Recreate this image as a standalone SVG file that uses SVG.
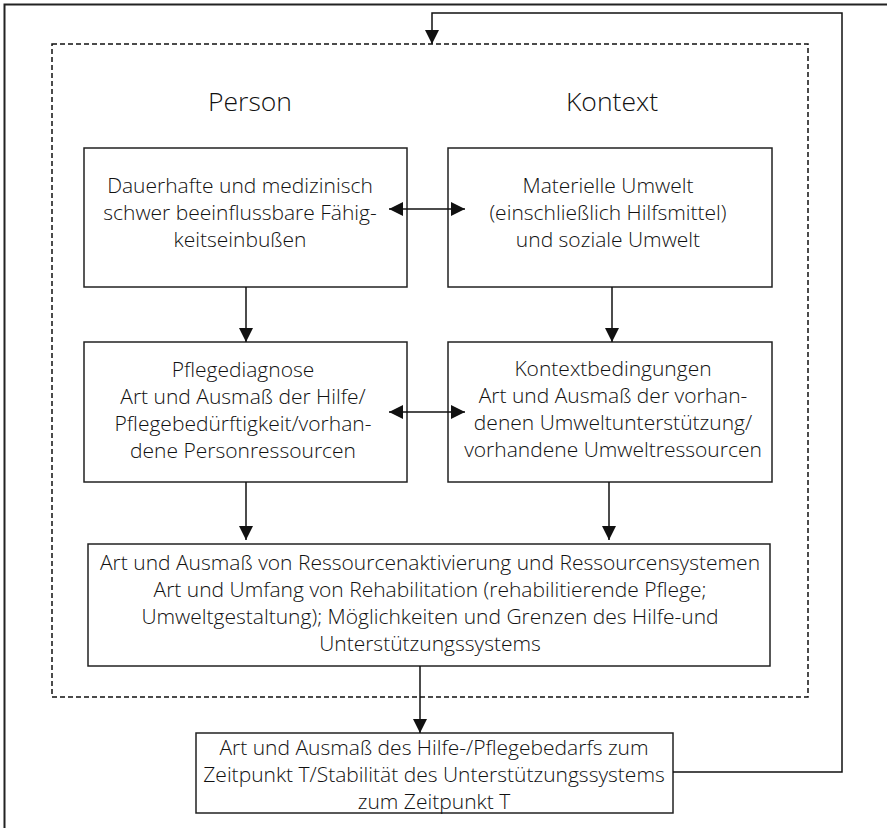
<svg xmlns="http://www.w3.org/2000/svg" width="887" height="828" viewBox="0 0 887 828">
<style>
.box{fill:#fff;stroke:#222;stroke-width:1.5}
.t{font-family:"Open Sans","Noto Sans","Liberation Sans",sans-serif;font-size:21px;font-weight:300;fill:#111;text-anchor:middle}
.h{font-size:26.5px}
.c{fill:none;stroke:#111;stroke-width:1.5}
</style>
<defs>
<marker id="ah" markerUnits="userSpaceOnUse" markerWidth="14" markerHeight="14" viewBox="0 0 14 14" refX="14" refY="7" orient="auto-start-reverse">
<path d="M0,0 L14,7 L0,14 Z" fill="#111"/>
</marker>
</defs>
<rect width="887" height="828" fill="#fff"/>
<g id="frame"><path d="M4.5,828 V4.5 H887" fill="none" stroke="#222" stroke-width="2"/></g>
<g id="context-boundary"><rect x="52" y="44" width="756" height="653" fill="none" stroke="#111" stroke-width="1.5" stroke-dasharray="5,3"/></g>
<g id="labels">
<text class="t h" x="250" y="111">Person</text>
<text class="t h" x="612" y="111">Kontext</text>
</g>
<g id="n1"><rect class="box" x="84" y="148" width="323" height="139"/>
<text class="t" x="240"><tspan x="240" y="193">Dauerhafte und medizinisch</tspan><tspan x="240" y="220">schwer beeinflussbare Fähig-</tspan><tspan x="240" y="247">keitseinbußen</tspan></text></g>
<g id="n2"><rect class="box" x="448" y="148" width="324" height="139"/>
<text class="t" x="608"><tspan x="608" y="193">Materielle Umwelt</tspan><tspan x="608" y="220">(einschließlich Hilfsmittel)</tspan><tspan x="608" y="247">und soziale Umwelt</tspan></text></g>
<g id="n3"><rect class="box" x="84" y="342" width="323" height="140"/>
<text class="t" x="243"><tspan x="243" y="377">Pflegediagnose</tspan><tspan x="243" y="404">Art und Ausmaß der Hilfe/</tspan><tspan x="243" y="431">Pflegebedürftigkeit/vorhan-</tspan><tspan x="243" y="458">dene Personressourcen</tspan></text></g>
<g id="n4"><rect class="box" x="448" y="342" width="324" height="140"/>
<text class="t" x="613"><tspan x="613" y="376">Kontextbedingungen</tspan><tspan x="613" y="403">Art und Ausmaß der vorhan-</tspan><tspan x="613" y="430">denen Umweltunterstützung/</tspan><tspan x="613" y="457">vorhandene Umweltressourcen</tspan></text></g>
<g id="n5"><rect class="box" x="88" y="544" width="682" height="122"/>
<text class="t" x="430"><tspan x="430" y="570">Art und Ausmaß von Ressourcenaktivierung und Ressourcensystemen</tspan><tspan x="430" y="597">Art und Umfang von Rehabilitation (rehabilitierende Pflege;</tspan><tspan x="430" y="624">Umweltgestaltung); Möglichkeiten und Grenzen des Hilfe-und</tspan><tspan x="430" y="651">Unterstützungssystems</tspan></text></g>
<g id="n6"><rect class="box" x="196" y="733" width="477" height="80"/>
<text class="t" x="434"><tspan x="434" y="755">Art und Ausmaß des Hilfe-/Pflegebedarfs zum</tspan><tspan x="434" y="782">Zeitpunkt T/Stabilität des Unterstützungssystems</tspan><tspan x="434" y="809">zum Zeitpunkt T</tspan></text></g>
<g id="connectors">
<path class="c" d="M246,287 V342" marker-end="url(#ah)"/>
<path class="c" d="M612,287 V342" marker-end="url(#ah)"/>
<path class="c" d="M389,209 H465" marker-start="url(#ah)" marker-end="url(#ah)"/>
<path class="c" d="M389,412 H465" marker-start="url(#ah)" marker-end="url(#ah)"/>
<path class="c" d="M246,482 V540" marker-end="url(#ah)"/>
<path class="c" d="M609,482 V540" marker-end="url(#ah)"/>
<path class="c" d="M420,666 V733" stroke-width="2" marker-end="url(#ah)"/>
<path class="c" d="M673,772 H842 V13 H432 V44" marker-end="url(#ah)"/>
</g>
</svg>
